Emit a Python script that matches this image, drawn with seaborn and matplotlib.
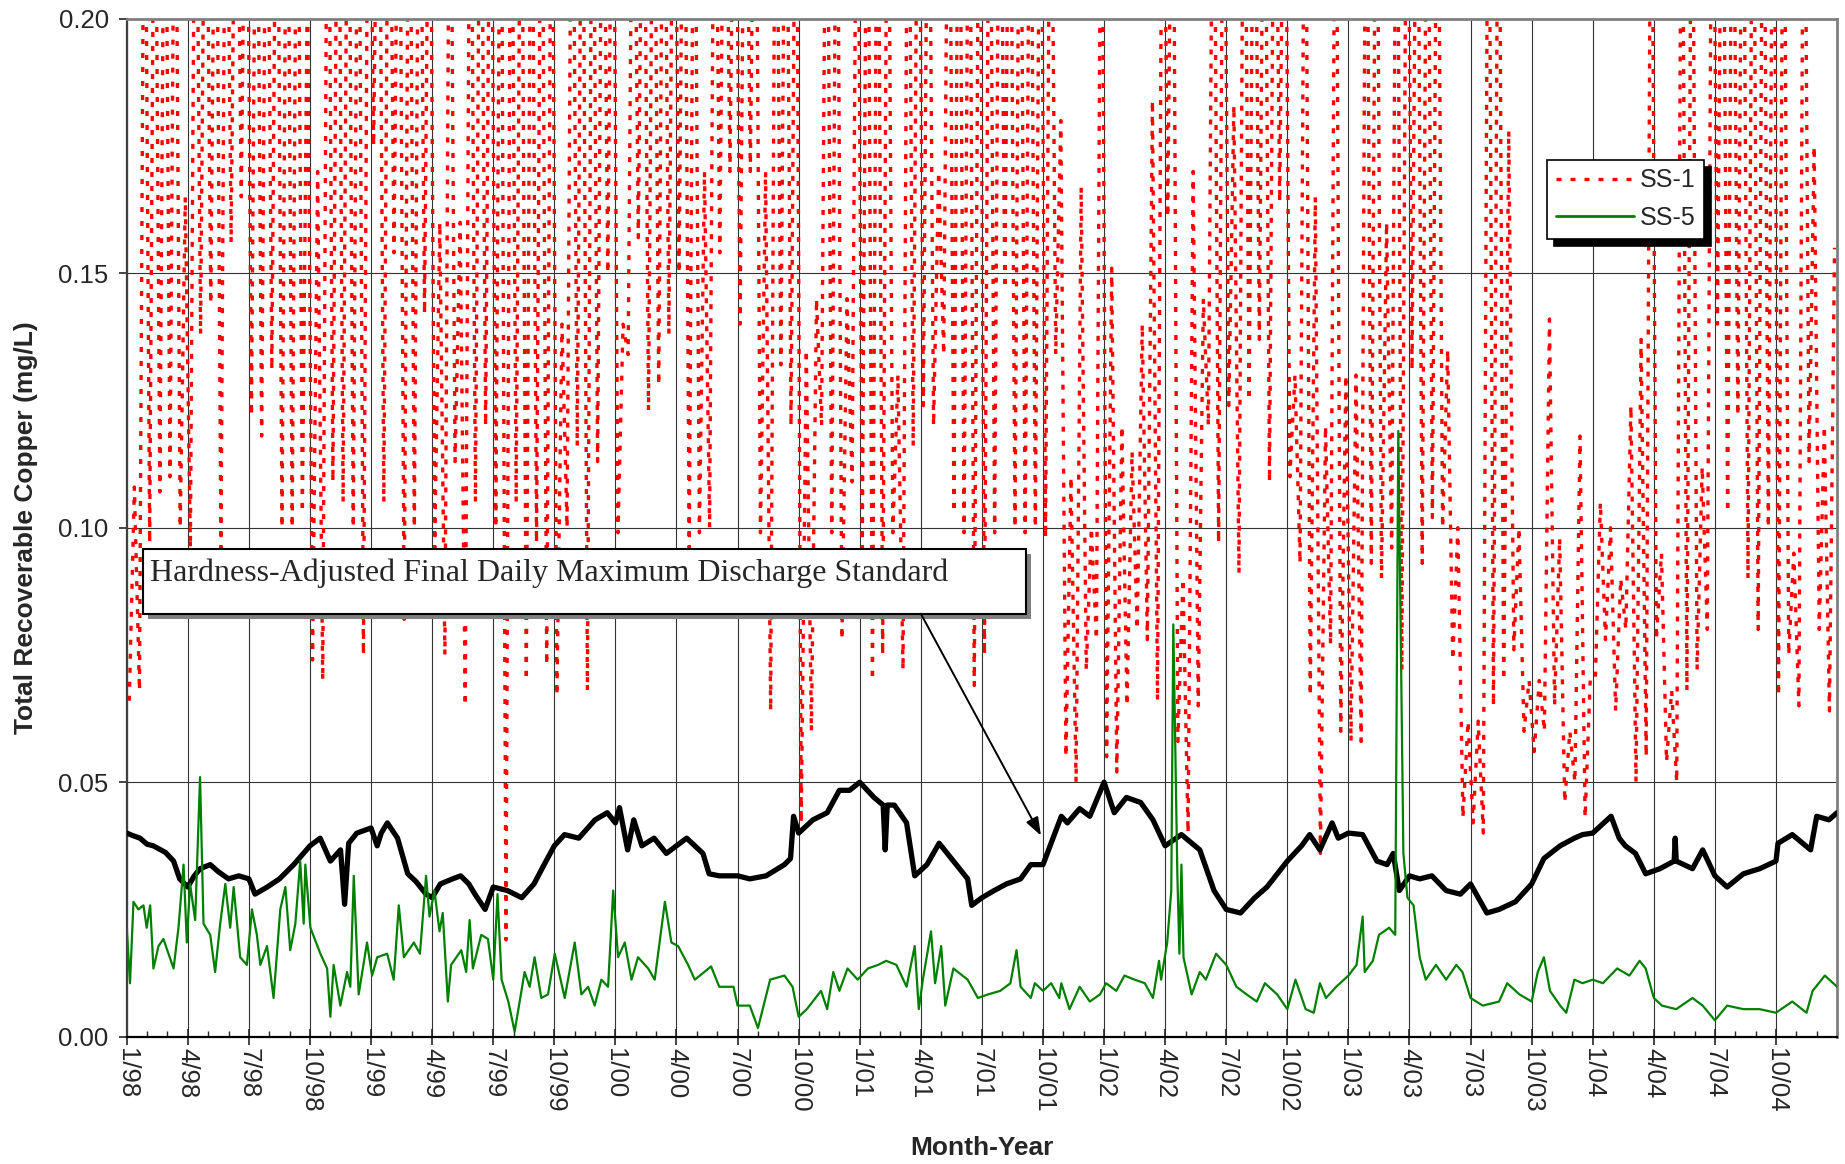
import numpy as np
import matplotlib
matplotlib.use("Agg")
import matplotlib.pyplot as plt
from matplotlib.lines import Line2D
from matplotlib.patches import Rectangle
from matplotlib.ticker import FormatStrFormatter
import seaborn as sns

# x axis is months elapsed since January 1998 (0 = 1/98, 84 = 1/05)
quarter_labels = [
    "1/98", "4/98", "7/98", "10/98", "1/99", "4/99", "7/99", "10/99",
    "1/00", "4/00", "7/00", "10/00", "1/01", "4/01", "7/01", "10/01",
    "1/02", "4/02", "7/02", "10/02", "1/03", "4/03", "7/03", "10/03",
    "1/04", "4/04", "7/04", "10/04",
]

# Hardness-adjusted daily maximum discharge standard (mg/L)
std_month = [
    0.0, 0.3, 0.65, 1.0, 1.3, 1.9, 2.3, 2.6, 3.0, 3.3, 3.6, 4.1, 4.5, 5.0, 5.5,
    6.0, 6.3, 6.9, 7.5, 8.2, 9.0, 9.5, 10.0, 10.5, 10.7, 10.9, 11.3, 12.0, 12.3,
    12.5, 12.8, 13.3, 13.8, 14.2, 14.7, 15.0, 15.4, 16.0, 16.4, 16.8, 17.1, 17.6,
    18.0, 18.7, 19.4, 20.0, 20.5, 21.0, 21.5, 22.2, 23.0, 23.6, 24.0, 24.2, 24.6,
    24.9, 25.3, 25.9, 26.5, 27.5, 28.3, 28.6, 29.1, 30.0, 30.6, 31.4, 32.3, 32.6,
    32.75, 33.0, 33.7, 34.4, 35.0, 35.5, 36.0, 36.7, 37.15, 37.25, 37.35, 37.7,
    38.3, 38.7, 39.3, 39.9, 40.6, 41.3, 41.5, 42.0, 42.6, 43.2, 43.9, 44.4, 45.0,
    45.4, 45.9, 46.2, 46.8, 47.3, 48.0, 48.5, 49.1, 49.8, 50.4, 51.0, 51.8, 52.7,
    53.4, 54.0, 54.7, 55.4, 56.0, 57.0, 57.7, 58.1, 58.6, 59.2, 59.5, 60.0, 60.7,
    61.4, 61.9, 62.2, 62.5, 63.0, 63.5, 64.1, 64.8, 65.5, 66.0, 66.8, 67.4, 68.2,
    69.0, 69.6, 70.4, 71.1, 71.5, 72.0, 72.9, 73.3, 73.6, 74.1, 74.6, 75.3, 76.0,
    76.05, 76.1, 76.9, 77.4, 78.0, 78.6, 79.4, 80.2, 81.0, 81.1, 81.8, 82.7, 83.0,
    83.6, 84.0,
]
std_value = [
    0.0400, 0.0395, 0.0390, 0.0378, 0.0375, 0.0362, 0.0345, 0.0310, 0.0294, 0.0315,
    0.0330, 0.0338, 0.0324, 0.0310, 0.0316, 0.0310, 0.0280, 0.0294, 0.0310, 0.0338,
    0.0375, 0.0390, 0.0345, 0.0367, 0.0260, 0.0380, 0.0400, 0.0410, 0.0375, 0.0400,
    0.0420, 0.0390, 0.0320, 0.0305, 0.0280, 0.0273, 0.0300, 0.0310, 0.0316, 0.0300,
    0.0280, 0.0250, 0.0294, 0.0287, 0.0273, 0.0300, 0.0338, 0.0375, 0.0397, 0.0390,
    0.0426, 0.0440, 0.0420, 0.0450, 0.0367, 0.0426, 0.0375, 0.0390, 0.0360, 0.0390,
    0.0360, 0.0320, 0.0316, 0.0316, 0.0310, 0.0316, 0.0338, 0.0350, 0.0433, 0.0400,
    0.0426, 0.0440, 0.0484, 0.0484, 0.0500, 0.0470, 0.0455, 0.0367, 0.0455, 0.0455,
    0.0420, 0.0316, 0.0338, 0.0380, 0.0345, 0.0310, 0.0258, 0.0273, 0.0287, 0.0300,
    0.0310, 0.0338, 0.0338, 0.0380, 0.0433, 0.0420, 0.0448, 0.0433, 0.0500, 0.0440,
    0.0470, 0.0460, 0.0426, 0.0375, 0.0397, 0.0367, 0.0287, 0.0250, 0.0243, 0.0273,
    0.0294, 0.0345, 0.0375, 0.0397, 0.0367, 0.0420, 0.0390, 0.0400, 0.0397, 0.0345,
    0.0338, 0.0360, 0.0287, 0.0316, 0.0310, 0.0316, 0.0287, 0.0280, 0.0300, 0.0243,
    0.0250, 0.0265, 0.0300, 0.0350, 0.0375, 0.0390, 0.0397, 0.0400, 0.0433, 0.0390,
    0.0375, 0.0360, 0.0320, 0.0330, 0.0345, 0.0390, 0.0345, 0.0330, 0.0367, 0.0316,
    0.0294, 0.0320, 0.0330, 0.0345, 0.0380, 0.0397, 0.0367, 0.0433, 0.0426, 0.0440,
]

# SS-5 total recoverable copper (mg/L)
ss5_month = [
    0.0, 0.16, 0.33, 0.57, 0.82, 0.98, 1.15, 1.31, 1.56, 1.8, 2.3, 2.54, 2.79, 2.95,
    3.11, 3.36, 3.6, 3.77, 4.1, 4.34, 4.59, 4.84, 5.08, 5.25, 5.57, 5.9, 6.15, 6.39,
    6.56, 6.89, 7.21, 7.54, 7.79, 8.03, 8.28, 8.52, 8.69, 8.77, 9.02, 9.51, 9.84,
    10.0, 10.16, 10.49, 10.82, 10.98, 11.15, 11.39, 11.8, 12.05, 12.3, 12.79, 13.11,
    13.36, 13.61, 14.1, 14.4, 14.7, 14.87, 15.11, 15.36, 15.52, 15.77, 15.93, 16.43,
    16.67, 16.84, 17.0, 17.41, 17.74, 18.0, 18.21, 18.41, 18.74, 19.05, 19.54, 19.79,
    20.03, 20.36, 20.69, 21.02, 21.51, 22.0, 22.33, 22.66, 22.98, 23.31, 23.64,
    23.89, 24.13, 24.46, 24.79, 25.11, 25.61, 25.93, 26.43, 26.75, 27.08, 27.57,
    27.9, 28.7, 29.1, 29.8, 30.0, 30.6, 31.0, 31.6, 32.3, 32.7, 33.0, 33.4, 34.1,
    34.4, 34.7, 35.0, 35.4, 35.9, 36.4, 36.9, 37.3, 37.8, 38.3, 38.7, 38.9, 39.1,
    39.5, 39.7, 40.0, 40.2, 40.6, 41.3, 41.8, 42.3, 42.9, 43.4, 43.7, 43.9, 44.4,
    44.6, 45.0, 45.4, 45.8, 45.9, 46.3, 46.8, 47.3, 47.8, 48.1, 48.6, 49.0, 49.5,
    50.0, 50.4, 50.7, 50.8, 51.1, 51.3, 51.4, 51.6, 51.7, 51.8, 51.9, 52.3, 52.7,
    53.0, 53.5, 54.0, 54.5, 55.0, 55.5, 55.9, 56.5, 57.0, 57.4, 57.9, 58.3, 58.6,
    58.9, 59.4, 60.0, 60.4, 60.7, 60.8, 61.2, 61.5, 62.0, 62.3, 62.45, 62.7, 62.9,
    63.2, 63.5, 63.8, 64.3, 64.8, 65.3, 65.6, 66.0, 66.6, 67.4, 67.8, 68.4, 69.0,
    69.3, 69.6, 69.9, 70.4, 70.7, 71.1, 71.5, 72.0, 72.5, 73.2, 73.8, 74.3, 74.6,
    75.0, 75.4, 76.1, 76.9, 77.4, 78.0, 78.6, 79.4, 80.2, 81.0, 81.8, 82.5, 82.8,
    83.4, 84.0,
]
ss5_value = [
    0.0214, 0.0105, 0.0265, 0.0250, 0.0258, 0.0214, 0.0258, 0.0134, 0.0178, 0.0192,
    0.0134, 0.0214, 0.0338, 0.0185, 0.0300, 0.0229, 0.0510, 0.0222, 0.0200, 0.0127,
    0.0222, 0.0300, 0.0214, 0.0294, 0.0156, 0.0141, 0.0250, 0.0200, 0.0141, 0.0178,
    0.0076, 0.0250, 0.0294, 0.0170, 0.0222, 0.0345, 0.0222, 0.0338, 0.0214, 0.0163,
    0.0134, 0.0039, 0.0141, 0.0061, 0.0127, 0.0098, 0.0316, 0.0083, 0.0185, 0.0120,
    0.0156, 0.0163, 0.0112, 0.0258, 0.0156, 0.0185, 0.0163, 0.0316, 0.0236, 0.0287,
    0.0207, 0.0243, 0.0069, 0.0141, 0.0170, 0.0127, 0.0229, 0.0134, 0.0200, 0.0192,
    0.0112, 0.0280, 0.0112, 0.0069, 0.0010, 0.0127, 0.0098, 0.0156, 0.0076, 0.0083,
    0.0163, 0.0076, 0.0185, 0.0083, 0.0098, 0.0061, 0.0112, 0.0098, 0.0287, 0.0156,
    0.0185, 0.0112, 0.0156, 0.0134, 0.0112, 0.0265, 0.0185, 0.0178, 0.0141, 0.0112,
    0.0138, 0.0098, 0.0098, 0.0061, 0.0061, 0.0017, 0.0112, 0.0120, 0.0098, 0.0039,
    0.0054, 0.0090, 0.0054, 0.0127, 0.0090, 0.0134, 0.0112, 0.0134, 0.0141, 0.0149,
    0.0141, 0.0098, 0.0178, 0.0054, 0.0112, 0.0207, 0.0105, 0.0178, 0.0061, 0.0134,
    0.0112, 0.0076, 0.0083, 0.0090, 0.0105, 0.0170, 0.0098, 0.0076, 0.0105, 0.0090,
    0.0105, 0.0076, 0.0105, 0.0054, 0.0098, 0.0069, 0.0083, 0.0105, 0.0090, 0.0120,
    0.0112, 0.0105, 0.0076, 0.0149, 0.0112, 0.0185, 0.0287, 0.0810, 0.0316, 0.0163,
    0.0338, 0.0156, 0.0083, 0.0127, 0.0112, 0.0163, 0.0141, 0.0098, 0.0083, 0.0069,
    0.0105, 0.0083, 0.0054, 0.0112, 0.0054, 0.0047, 0.0105, 0.0076, 0.0098, 0.0120,
    0.0141, 0.0236, 0.0127, 0.0149, 0.0200, 0.0214, 0.0200, 0.1190, 0.0360, 0.0273,
    0.0258, 0.0156, 0.0112, 0.0141, 0.0112, 0.0141, 0.0127, 0.0076, 0.0061, 0.0069,
    0.0105, 0.0083, 0.0069, 0.0127, 0.0156, 0.0090, 0.0061, 0.0047, 0.0112, 0.0105,
    0.0112, 0.0105, 0.0134, 0.0120, 0.0149, 0.0134, 0.0076, 0.0061, 0.0054, 0.0076,
    0.0061, 0.0032, 0.0061, 0.0054, 0.0054, 0.0047, 0.0069, 0.0047, 0.0090, 0.0120,
    0.0098,
]

# SS-1 total recoverable copper (mg/L), weekly readings; values above 0.20 run off the top
ss1_value = [
    # 1998
    0.066, 0.108, 0.068, 0.260,  0.097, 0.260, 0.107, 0.260,  0.110, 0.260, 0.100, 0.165,
    0.096, 0.260, 0.138, 0.260,  0.144, 0.260, 0.096, 0.260,  0.156, 0.260, 0.165, 0.260,
    0.122, 0.260, 0.118, 0.260,  0.131, 0.260, 0.100, 0.260,  0.100, 0.260, 0.103, 0.210,
    0.074, 0.170, 0.070, 0.260,  0.109, 0.260, 0.105, 0.260,  0.100, 0.260, 0.075, 0.260,
    # 1999
    0.175, 0.260, 0.105, 0.260,  0.154, 0.260, 0.082, 0.260,  0.100, 0.260, 0.142, 0.260,
    0.096, 0.160, 0.075, 0.260,  0.113, 0.160, 0.065, 0.260,  0.105, 0.260, 0.120, 0.260,
    0.100, 0.260, 0.019, 0.260,  0.105, 0.260, 0.070, 0.260,  0.097, 0.260, 0.073, 0.260,
    0.067, 0.140, 0.100, 0.260,  0.116, 0.260, 0.068, 0.260,  0.113, 0.260, 0.150, 0.260,
    # 2000
    0.099, 0.140, 0.134, 0.260,  0.157, 0.260, 0.123, 0.260,  0.128, 0.260, 0.138, 0.260,
    0.150, 0.260, 0.096, 0.260,  0.099, 0.170, 0.100, 0.260,  0.154, 0.260, 0.170, 0.260,
    0.140, 0.260, 0.170, 0.260,  0.099, 0.170, 0.064, 0.260,  0.132, 0.260, 0.120, 0.260,
    0.042, 0.135, 0.060, 0.145,  0.120, 0.260, 0.099, 0.260,  0.078, 0.145, 0.109, 0.260,
    # 2001
    0.096, 0.260, 0.070, 0.260,  0.075, 0.260, 0.099, 0.130,  0.072, 0.260, 0.116, 0.260,
    0.124, 0.260, 0.120, 0.170,  0.134, 0.260, 0.103, 0.260,  0.099, 0.260, 0.069, 0.260,
    0.075, 0.260, 0.099, 0.260,  0.147, 0.260, 0.100, 0.260,  0.099, 0.260, 0.100, 0.260,
    0.098, 0.260, 0.134, 0.180,  0.055, 0.110, 0.050, 0.167,  0.072, 0.100, 0.078, 0.260,
    # 2002
    0.055, 0.151, 0.052, 0.120,  0.065, 0.115, 0.080, 0.140,  0.078, 0.184, 0.066, 0.260,
    0.161, 0.260, 0.058, 0.090,  0.040, 0.170, 0.065, 0.145,  0.120, 0.260, 0.097, 0.260,
    0.124, 0.183, 0.091, 0.260,  0.125, 0.260, 0.137, 0.260,  0.109, 0.260, 0.164, 0.260,
    0.110, 0.130, 0.093, 0.260,  0.067, 0.165, 0.036, 0.120,  0.077, 0.260, 0.060, 0.130,
    # 2003
    0.058, 0.130, 0.058, 0.260,  0.093, 0.260, 0.090, 0.160,  0.096, 0.260, 0.072, 0.260,
    0.131, 0.260, 0.093, 0.260,  0.102, 0.260, 0.100, 0.135,  0.074, 0.100, 0.043, 0.062,
    0.042, 0.062, 0.040, 0.260,  0.065, 0.260, 0.070, 0.178,  0.076, 0.100, 0.060, 0.070,
    0.056, 0.070, 0.060, 0.141,  0.065, 0.098, 0.046, 0.060,  0.050, 0.118, 0.043, 0.070,
    # 2004
    0.070, 0.105, 0.078, 0.100,  0.064, 0.090, 0.080, 0.124,  0.050, 0.137, 0.055, 0.260,
    0.078, 0.095, 0.054, 0.068,  0.050, 0.260, 0.068, 0.260,  0.072, 0.112, 0.080, 0.260,
    0.140, 0.260, 0.103, 0.260,  0.122, 0.260, 0.090, 0.260,  0.080, 0.260, 0.100, 0.260,
    0.067, 0.260, 0.075, 0.095,  0.065, 0.260, 0.113, 0.175,  0.080, 0.120, 0.064, 0.155,
]
# four readings per month, centred within each week
ss1_month = np.arange(len(ss1_value)) * 0.25 + 0.125

annotation_text = "Hardness-Adjusted Final Daily Maximum Discharge Standard"

sns.set_style("white")
plt.rcParams["font.family"] = ["Liberation Sans", "DejaVu Sans"]

fig = plt.figure(figsize=(18.45, 11.64), dpi=100)
ax = fig.add_axes([0.0687, 0.1094, 0.9270, 0.8745])

dotted = (0, (1.5, 2.7))
sns.lineplot(x=ss1_month, y=ss1_value, ax=ax, color="#ff0000", linewidth=2.4,
             linestyle=dotted, estimator=None, sort=False, zorder=2)
sns.lineplot(x=np.array(std_month), y=np.array(std_value), ax=ax, color="black",
             linewidth=3.8, estimator=None, sort=False, zorder=3,
             solid_joinstyle="round")
sns.lineplot(x=np.array(ss5_month), y=np.array(ss5_value), ax=ax, color="#008000",
             linewidth=1.6, estimator=None, sort=False, zorder=4)

# axes, ticks and grid
ax.set_xlim(0, 84)
ax.set_ylim(0, 0.2)
ax.set_xticks(np.arange(0, 84, 3))
ax.set_xticklabels(quarter_labels, rotation=-90, fontsize=18.5)
ax.set_xticks(np.arange(0, 85, 1), minor=True)
ax.set_yticks([0.0, 0.05, 0.10, 0.15, 0.20])
ax.yaxis.set_major_formatter(FormatStrFormatter("%.2f"))
ax.tick_params(axis="y", labelsize=18.5, direction="out", length=6, width=1.2,
               pad=7, left=True)
ax.tick_params(axis="x", which="major", direction="inout", length=11, width=1.2,
               pad=3, bottom=True)
ax.tick_params(axis="x", which="minor", direction="in", length=4, width=1,
               bottom=True)
ax.grid(True, which="major", axis="both", color="#333333", linewidth=0.8)
ax.set_axisbelow(True)

for side in ("top", "right"):
    ax.spines[side].set_color("#808080")
    ax.spines[side].set_linewidth(2)
ax.spines["left"].set_color("#404040")
ax.spines["left"].set_linewidth(1.6)
ax.spines["bottom"].set_color("black")
ax.spines["bottom"].set_linewidth(1.6)

ax.set_ylabel("Total Recoverable Copper (mg/L)", fontsize=19, fontweight="bold",
              va="center")
ax.yaxis.set_label_coords(-0.0588, 0.5)
ax.set_xlabel("Month-Year", fontsize=19, fontweight="bold", va="center")
ax.xaxis.set_label_coords(0.5, -0.1093)

# legend with a solid drop shadow
handles = [
    Line2D([], [], color="#ff0000", linewidth=2.4, linestyle=dotted),
    Line2D([], [], color="#008000", linewidth=2.0),
]
leg = ax.legend(handles, ["SS-1", "SS-5"], loc="upper left",
                bbox_to_anchor=(0.8306, 0.8615), frameon=True, fancybox=False,
                shadow={"ox": 5, "oy": -5, "facecolor": "black",
                        "edgecolor": "black", "alpha": 1},
                edgecolor="black", framealpha=1, fontsize=18, borderpad=0.35,
                labelspacing=0.55, handlelength=3.1, handletextpad=0.25,
                borderaxespad=0)
leg.get_frame().set_linewidth(1.2)
leg.set_zorder(10)

# callout box for the standard line
bx, by, bw, bh = 0.0095, 0.4153, 0.5161, 0.0636
ax.add_patch(Rectangle((bx + 0.0030, by - 0.0050), bw, bh, transform=ax.transAxes,
                       facecolor="#808080", edgecolor="none", zorder=6))
ax.add_patch(Rectangle((bx, by), bw, bh, transform=ax.transAxes,
                       facecolor="white", edgecolor="black", linewidth=1.5, zorder=7))
ax.text(0.0136, 0.4479, annotation_text, transform=ax.transAxes,
        fontsize=23, family=["Liberation Serif", "DejaVu Serif"],
        ha="left", va="baseline", zorder=8)
ax.annotate("", xy=(44.9, 0.0395), xytext=(39.0, 0.0831),
            arrowprops=dict(arrowstyle="-|>,head_length=0.55,head_width=0.2",
                            color="black", linewidth=1.4, mutation_scale=20,
                            shrinkA=0, shrinkB=0),
            zorder=8)

fig.savefig("out.png", dpi=100)
